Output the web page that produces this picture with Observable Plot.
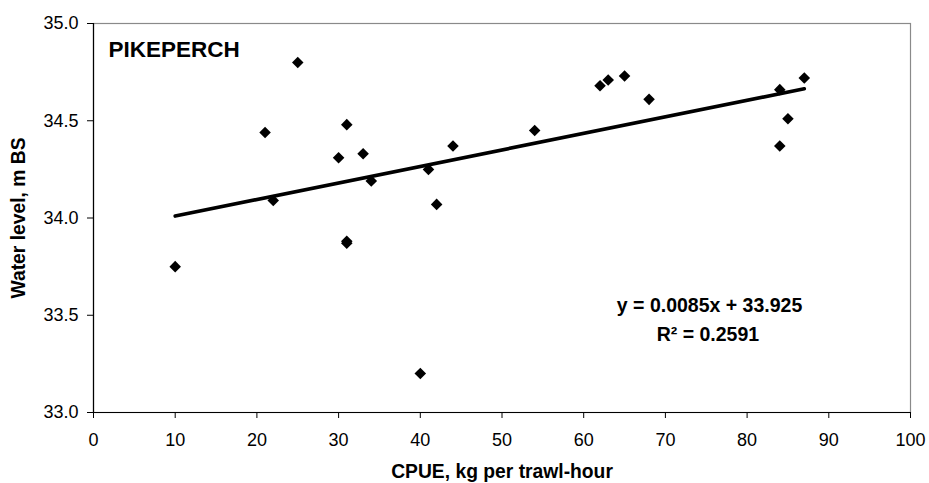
<!DOCTYPE html>
<html>
<head>
<meta charset="utf-8">
<script src="https://cdn.jsdelivr.net/npm/d3@7"></script>
<script src="https://cdn.jsdelivr.net/npm/@observablehq/plot@0.6"></script>
<style>
  html, body { margin: 0; padding: 0; background: #fff; }
  #chart { width: 929px; height: 483px; }
</style>
</head>
<body>
<div id="chart"></div>
<script>
// CPUE (kg per trawl-hour) and water level (m BS), pikeperch
const cpue = [10, 21, 22, 25, 30, 31, 31, 31, 33, 34, 40, 41, 42, 44, 54, 62, 63, 65, 68, 84, 84, 85, 87];
const waterLevel = [33.75, 34.44, 34.09, 34.80, 34.31, 34.48, 33.87, 33.88, 34.33, 34.19, 33.20, 34.25, 34.07, 34.37, 34.45, 34.68, 34.71, 34.73, 34.61, 34.66, 34.37, 34.51, 34.72];

// Trend line as printed on the chart
const slope = 0.0085;
const intercept = 33.925;
const trendRange = [10, 87];

const xTicks = [0, 10, 20, 30, 40, 50, 60, 70, 80, 90, 100];
const yTicks = [33.0, 33.5, 34.0, 34.5, 35.0];

const speciesLabel = "PIKEPERCH";
const equationLabel = "y = 0.0085x + 33.925";
const r2Label = "R² = 0.2591";
const xLabel = "CPUE, kg per trawl-hour";
const yLabel = "Water level, m BS";

const points = cpue.map((x, i) => ({x, y: waterLevel[i]}));
const trend = trendRange.map(x => ({x, y: slope * x + intercept}));

const font = "'Liberation Sans', Arial, Helvetica, sans-serif";

const chart = Plot.plot({
  width: 929,
  height: 483,
  marginLeft: 93,
  marginRight: 19,
  marginTop: 23,
  marginBottom: 71,
  style: {fontFamily: font, fontSize: "18px", color: "#000", background: "#fff", overflow: "visible"},
  x: {domain: [0, 100]},
  y: {domain: [33, 35]},
  marks: [
    Plot.frame({stroke: "#8a8a8a", strokeWidth: 1.2}),
    Plot.axisX({ticks: xTicks, tickSize: 6, tickPadding: 15, label: null, fontSize: 18}),
    Plot.axisY({ticks: yTicks, tickFormat: d3.format(".1f"), tickSize: 6, tickPadding: 9, label: null, fontSize: 18}),
    Plot.ruleX([0], {stroke: "#000", strokeWidth: 1.2}),
    Plot.ruleY([33], {stroke: "#000", strokeWidth: 1.2}),
    Plot.line(trend, {x: "x", y: "y", stroke: "#000", strokeWidth: 3.6}),
    Plot.dot(points, {x: "x", y: "y", symbol: "diamond2", r: 5.2, fill: "#000", stroke: "none"}),
    Plot.text([speciesLabel], {frameAnchor: "top-left", dx: 15, dy: 18, fontSize: 22.5, fontWeight: "bold", textAnchor: "start", lineAnchor: "top"}),
    Plot.text([equationLabel], {x: [75.4], y: [33.515], fontSize: 19.5, fontWeight: "bold", textAnchor: "middle", lineAnchor: "bottom"}),
    Plot.text([r2Label], {x: [75.2], y: [33.369], fontSize: 19.5, fontWeight: "bold", textAnchor: "middle", lineAnchor: "bottom"}),
    Plot.text([xLabel], {frameAnchor: "bottom", dy: 59, fontSize: 19.3, fontWeight: "bold", textAnchor: "middle", lineAnchor: "middle"}),
    Plot.text([yLabel], {frameAnchor: "left", dx: -75, rotate: -90, fontSize: 19.3, fontWeight: "bold", textAnchor: "middle", lineAnchor: "middle"})
  ]
});
document.getElementById("chart").appendChild(chart);
</script>
</body>
</html>
